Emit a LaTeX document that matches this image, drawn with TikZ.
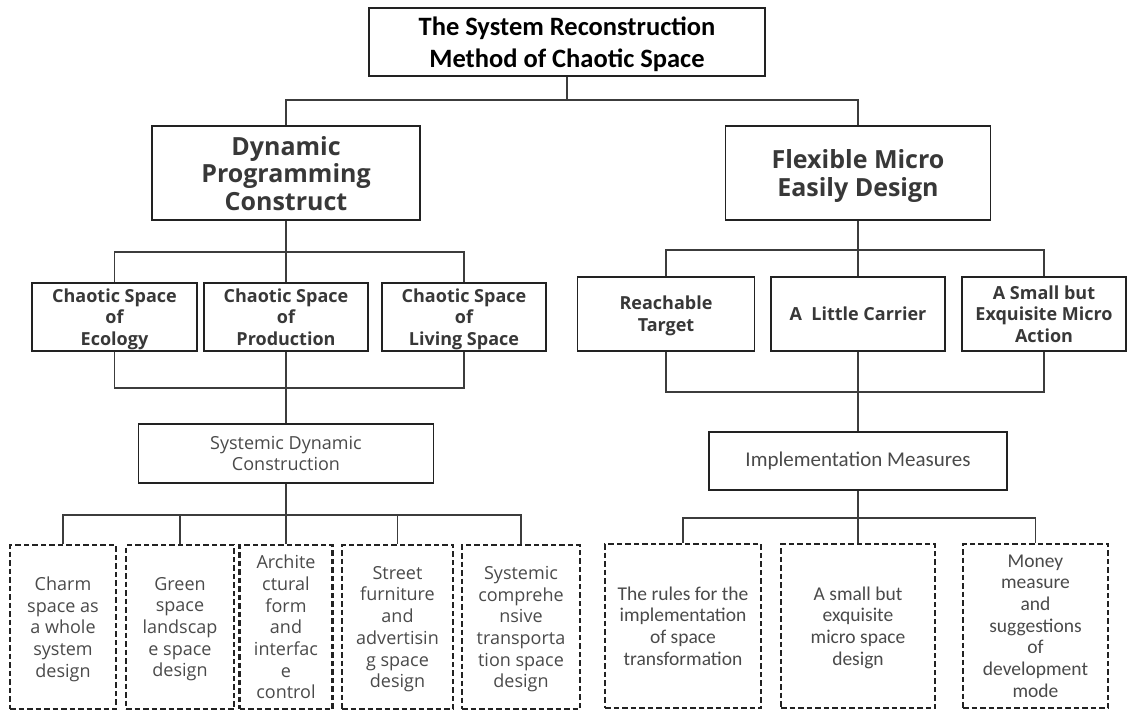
\documentclass[tikz,border=0pt]{standalone}
\usepackage{fontspec}
\setmainfont{Open Sans}
\newfontfamily\calfont{Carlito}
\definecolor{boxline}{HTML}{222222}
\definecolor{inkgray}{HTML}{383838}
\definecolor{softgray}{HTML}{4A4A4A}
\definecolor{wiregray}{HTML}{3C3C3C}

\begin{document}
\begin{tikzpicture}[x=1pt,y=-1pt,
	box/.style={draw=boxline,line width=1.8pt,fill=white,inner sep=0pt,align=center,text=inkgray},
	stack/.style={text depth=-0.25em},
	headbox/.style={box,stack,font=\fontsize{25}{27.5}\selectfont\bfseries},
	subfont/.style={font=\fontsize{18}{21.7}\selectfont\bfseries},
	subbox/.style={box,stack,subfont},
	plainbox/.style={box,line width=1.6pt,text=softgray},
	leafbox/.style={box,stack,dash pattern=on 5.5pt off 3pt,line width=2.2pt,text=softgray,minimum height=164pt},
	calleaf/.style={leafbox,text depth=-0.45em,font=\calfont\fontsize{19.5}{21.7}\selectfont},
	wire/.style={draw=wiregray,line width=1.3pt}]
				\path[use as bounding box,clip] (0,0) rectangle (1127,710);
				\node[box,stack,line width=2.8pt,minimum width=396pt,minimum height=68pt,text=black,font=\calfont\fontsize{26.5}{32}\selectfont\bfseries] (root) at (567,42) {The System Reconstruction\\Method of Chaotic Space};
				\node[headbox,minimum width=268pt,minimum height=94pt] (dyn) at (286,173) {Dynamic\\Programming\\Construct};
				\node[headbox,minimum width=265pt,minimum height=94pt] (flex) at (858,173) {Flexible Micro\\Easily Design};
				\node[subbox,minimum width=165pt,minimum height=68pt] (eco) at (114.5,317) {Chaotic Space\\of\\Ecology};
				\node[subbox,minimum width=164pt,minimum height=68pt] (pro) at (286,317) {Chaotic Space\\of\\Production};
				\node[subbox,minimum width=164pt,minimum height=68pt] (liv) at (464,317) {Chaotic Space\\of\\Living Space};
				\node[subbox,minimum width=177pt,minimum height=74pt] (rt) at (666,314) {Reachable\\Target};
				\node[box,subfont,minimum width=174pt,minimum height=74pt] (alc) at (858,314) {A~~Little Carrier};
				\node[subbox,minimum width=164pt,minimum height=74pt] (act) at (1044,314) {A Small but\\Exquisite Micro\\Action};
				\node[plainbox,stack,minimum width=295pt,minimum height=59pt,font=\fontsize{18}{21.7}\selectfont] (sdc) at (286,453.5) {Systemic Dynamic\\Construction};
				\node[plainbox,minimum width=298pt,minimum height=58pt,font=\calfont\fontsize{21}{24}\selectfont] (im) at (858,461) {Implementation Measures};
				\node[leafbox,minimum width=106pt,font=\fontsize{18}{21.7}\selectfont] (d1) at (63,627) {Charm\\space as\\a whole\\system\\design};
				\node[leafbox,minimum width=108pt,font=\fontsize{18}{21.7}\selectfont] (d2) at (180,627) {Green\\space\\landscap\\e space\\design};
				\node[leafbox,minimum width=93pt,font=\fontsize{18}{21.7}\selectfont] (d3) at (286,627) {Archite\\ctural\\form\\and\\interfac\\e\\control};
				\node[leafbox,minimum width=111pt,font=\fontsize{18}{21.7}\selectfont] (d4) at (397.5,627) {Street\\furniture\\and\\advertisin\\g space\\design};
				\node[leafbox,minimum width=118pt,font=\fontsize{18}{21.7}\selectfont] (d5) at (521,627) {Systemic\\comprehe\\nsive\\transporta\\tion space\\design};
				\node[calleaf,minimum width=156pt] (r1) at (683,626) {The rules for the\\implementation\\of space\\transformation};
				\node[calleaf,minimum width=154pt] (r2) at (858,626) {A small but\\exquisite\\micro space\\design};
				\node[calleaf,minimum width=145pt] (r3) at (1035.5,626) {Money\\measure\\and\\suggestions\\of\\development\\mode};
				\coordinate (b1) at (567,100);
				\coordinate (b2) at (286,252);
				\coordinate (b3) at (286,388);
				\coordinate (b4) at (286,515);
				\coordinate (b5) at (858,250);
				\coordinate (b6) at (858,392);
				\coordinate (b7) at (858,518);
				\draw[wire] (root.south) -- (b1);
				\draw[wire] (dyn.north) |- (b1) -| (flex.north);
				\draw[wire] (dyn.south) -- (pro.north);
				\draw[wire] (eco.north) |- (b2) -| (liv.north);
				\draw[wire] (eco.south) |- (b3) -| (liv.south);
				\draw[wire] (pro.south) -- (sdc.north);
				\draw[wire] (sdc.south) -- (d3.north);
				\draw[wire] (d1.north) |- (b4) -| (d5.north);
				\foreach \leaf in {d2,d4}
					\draw[wire] (\leaf.north) -- (\leaf.north |- b4);
				\draw[wire] (flex.south) -- (alc.north);
				\draw[wire] (rt.north) |- (b5) -| (act.north);
				\draw[wire] (rt.south) |- (b6) -| (act.south);
				\draw[wire] (alc.south) -- (im.north);
				\draw[wire] (im.south) -- (r2.north);
				\draw[wire] (r1.north) |- (b7) -| (r3.north);
\end{tikzpicture}
\end{document}
